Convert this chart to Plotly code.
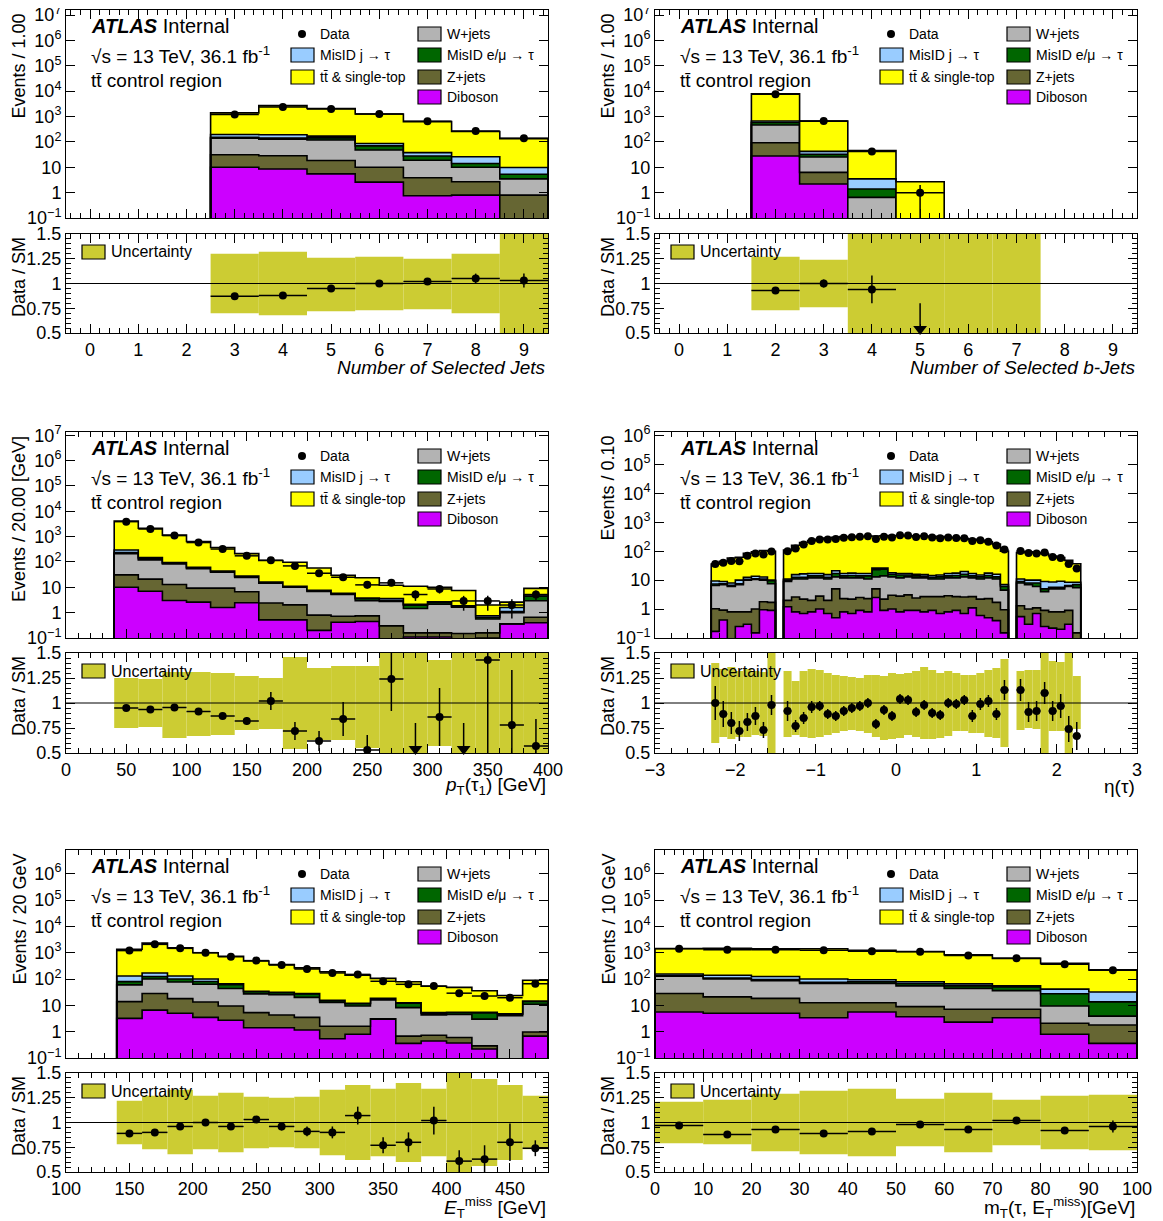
import numpy as np
import plotly.graph_objects as go

PAGE_W, PAGE_H = 1163, 1221
BODY_MARGIN = 8          # default <body> margin of the written html page
FIG_W, FIG_H = PAGE_W - BODY_MARGIN, PAGE_H - BODY_MARGIN
FONT = "Liberation Sans, Arial, Helvetica, sans-serif"

C_DIB, C_Z, C_W, C_EMU, C_J, C_TT = "#cc00ff", "#666633", "#b3b3b3", "#006600", "#99ccff", "#ffff00"
C_UNC = "#cccc33"

# ================= Panel 1 : number of selected jets =================
njet_centres = [3, 4, 5, 6, 7, 8, 9]
njet_dib = [10, 8.5, 5.5, 2.6, 0.75, 0.8, 0.0]
njet_z = [21, 20, 13, 7.4, 3.1, 1.9, 0.8]
njet_w = [110, 100, 100, 38, 15, 7.3, 2.7]
njet_emu = [12, 12, 25, 22, 9, 4, 1.8]
njet_j = [42, 50, 25, 17, 10, 12, 4.5]
njet_tt = [1200, 2500, 1900, 1170, 590, 230, 125]
njet_data = [1200, 2400, 2000, 1250, 650, 270, 140]
njet_ratio = [0.87, 0.88, 0.95, 1.0, 1.02, 1.05, 1.03]
njet_ratio_err = [0.01, 0.01, 0.01, 0.01, 0.02, 0.05, 0.07]
njet_unc_centres = [3, 4, 5, 6, 7, 8, 9]
njet_unc_lo = [0.70, 0.68, 0.72, 0.73, 0.74, 0.70, 0.50]
njet_unc_hi = [1.30, 1.32, 1.26, 1.27, 1.25, 1.30, 1.50]

# ================= Panel 2 : number of selected b-jets =================
nbjet_centres = [2, 3, 4, 5]
nbjet_dib = [28, 2.2, 0, 0]
nbjet_z = [65, 4.1, 0, 0]
nbjet_w = [370, 19, 0.65, 0]
nbjet_emu = [120, 7, 0.75, 0]
nbjet_j = [80, 10, 2.1, 0]
nbjet_tt = [7300, 620, 42, 2.7]
nbjet_data = [7500, 660, 42, 1]
nbjet_ratio = [0.93, 1.0, 0.94, 0.37]
nbjet_ratio_err = [0.01, 0.04, 0.14, 0.43]
nbjet_unc_centres = [2, 3, 4, 5, 6, 7]
nbjet_unc_lo = [0.73, 0.76, 0.5, 0.5, 0.5, 0.5]
nbjet_unc_hi = [1.27, 1.24, 1.5, 1.5, 1.5, 1.5]

# ================= Panel 3 : leading tau pT =================
pt_centres = [50, 70, 90, 110, 130, 150, 170, 190, 210, 230, 250, 270, 290, 310, 330, 350, 370, 390]
pt_dib = [10, 7, 3, 2.6, 1.6, 2.45, 0.52, 0.52, 0.2, 0.42, 0.45, 0, 0.11, 0.11, 0, 0.1, 0.36, 0.4]
pt_z = [21, 14, 10, 6.7, 7.7, 4.2, 1.9, 1.5, 0.6, 0.3, 0.3, 0.3, 0.05, 0.05, 0.15, 0.06, 0, 0.26]
pt_w = [180, 100, 70, 45, 30, 18, 12, 8, 6, 4.5, 2.2, 2.5, 1.3, 2.0, 1.5, 0.4, 0.64, 2.3]
pt_emu = [25, 15, 6, 4, 3, 2, 1.0, 0.5, 0.5, 0.3, 0.6, 0.3, 0.5, 0.3, 0.1, 0.1, 0.1, 1.5]
pt_j = [60, 15, 6, 4, 2, 1.5, 0.8, 0.5, 0.3, 0.3, 0.2, 0.5, 0.2, 0.2, 0.1, 0.1, 0.5, 0.5]
pt_tt = [3800, 1990, 1055, 578, 331, 185, 99, 86, 50, 24, 20, 8.4, 8.8, 7.3, 5.6, 1.25, 1.0, 4.1]
pt_data = [3900, 2000, 1100, 585, 325, 175, 117, 70, 36, 25, 12.5, 15, 5.2, 8.6, 2.9, 2.9, 2.0, 5.2]
pt_ratio = [0.95, 0.935, 0.955, 0.915, 0.87, 0.82, 1.02, 0.72, 0.62, 0.84, 0.53, 1.24, 0.45, 0.86, 0.39, 1.43, 0.78, 0.57]
pt_ratio_err = [0.02, 0.02, 0.02, 0.02, 0.03, 0.04, 0.09, 0.09, 0.1, 0.17, 0.15, 0.32, 0.35, 0.29, 0.41, 1.0, 0.55, 0.27]
pt_unc_centres = pt_centres
pt_unc_lo = [0.75, 0.76, 0.65, 0.67, 0.68, 0.73, 0.74, 0.54, 0.63, 0.63, 0.55, 0.5, 0.5, 0.57, 0.5, 0.5, 0.5, 0.5]
pt_unc_hi = [1.25, 1.24, 1.31, 1.31, 1.30, 1.27, 1.25, 1.46, 1.35, 1.37, 1.37, 1.5, 1.5, 1.43, 1.5, 1.5, 1.5, 1.5]

# ================= Panel 4 : tau eta (bins of 0.1, crack bins empty) =================
eta_edges = np.round(np.linspace(-2.3, 2.3, 47), 2)
eta_dib = ([0.17, 0.42, 0.0, 0.25, 0.3, 0.15, 0.95, 0.9] + [0] +
           [1.2, 0.8, 0.7, 0.8, 1.0, 0.7, 0.5, 0.8, 0.7, 0.9, 0.8, 2.5, 0.9, 1.0,
            0.8, 0.9, 0.9, 0.8, 0.9, 0.7, 0.8, 0.9, 0.7, 1.1, 0.6, 0.5, 0.4, 0.15] + [0] +
           [0.55, 0.3, 0.7, 0.25, 0.22, 0.2, 0.3, 0.0])
eta_z = ([0.85, 0.5, 0.8, 0.55, 0.5, 0.85, 0.85, 0.8] + [0] +
         [0.8, 1.8, 1.5, 1.2, 1.8, 1.3, 4.5, 1.5, 1.5, 1.6, 1.5, 2.5, 1.3, 2.0,
          2.0, 2.2, 1.5, 1.9, 1.8, 2.0, 2.1, 1.8, 1.9, 1.6, 1.6, 1.8, 1.3, 0.8] + [0] +
         [0.75, 0.7, 0.4, 0.65, 0.58, 0.6, 0.6, 0.15])
eta_w = ([5.5, 6.1, 5.2, 6.2, 9.2, 9.5, 8.2, 5.8] + [0] +
         [7.0, 8.4, 8.8, 10.0, 9.2, 9.0, 8.0, 9.7, 9.8, 9.5, 8.7, 8.0, 11.8, 10.0,
          9.2, 9.9, 9.6, 9.3, 8.3, 8.3, 9.1, 9.3, 10.4, 9.3, 8.8, 9.7, 9.3, 3.55] + [0] +
         [6.7, 6.0, 4.9, 3.1, 4.2, 4.2, 5.1, 5.35])
eta_emu = ([0.8, 0.5, 0.6, 0.5, 0.6, 0.7, 0.8, 2.0] + [0] +
           [1, 1.5, 1.5, 2, 2, 1.5, 4, 2, 2.5, 2, 3, 10, 10, 3,
            3, 2, 2, 1.5, 1.5, 2, 2, 2.5, 3, 2, 2, 2.5, 2, 1.5] + [0] +
           [1, 1, 2, 1, 0.6, 0.6, 0.5, 1.5])
eta_j = ([2.0, 1.5, 1.4, 2.5, 2.0, 2.5, 2.0, 0.5] + [0] +
         [1, 3, 4, 3, 3, 3, 4, 3, 3, 3, 3, 3, 2, 2,
          2, 2, 2, 2, 2, 2, 3, 3, 4, 3, 2, 3, 3, 1] + [0] +
         [2, 2, 2, 4, 3, 3.5, 2, 1.5])
eta_tt = ([26.7, 36, 50, 52, 72.4, 81.3, 92.2, 90] + [0] +
          [98, 144.5, 183.5, 218, 243, 269.5, 284, 303, 302.5, 308, 313, 309, 314, 327,
           328, 323, 324, 319.5, 315.5, 305, 283, 272.5, 255, 243, 225, 192.5, 159, 94] + [0] +
          [79, 85, 80, 73, 59.4, 50.9, 39.5, 28.5])
eta_data = ([36, 40, 46, 45, 69, 83, 77, 98] + [None] +
            [100, 123, 170, 226, 252, 254, 265, 294, 304, 315, 330, 265, 316, 300,
             359, 350, 309, 328, 297, 282, 300, 287, 283, 226, 238, 214, 156, 114] + [None] +
            [102, 86, 83, 90, 63, 58, 36, 25])
eta_ratio = ([1.0, 0.89, 0.80, 0.72, 0.81, 0.87, 0.73, 0.98] + [None] +
             [0.92, 0.77, 0.85, 0.96, 0.97, 0.89, 0.87, 0.92, 0.95, 0.97, 1.0, 0.79, 0.93, 0.87,
              1.04, 1.03, 0.91, 0.98, 0.90, 0.88, 1.0, 0.99, 1.03, 0.87, 0.99, 1.02, 0.89, 1.13] + [None] +
             [1.13, 0.91, 0.92, 1.10, 0.92, 0.97, 0.74, 0.67])
eta_ratio_err = ([0.17, 0.13, 0.11, 0.1, 0.09, 0.09, 0.08, 0.1] + [None] +
                 [0.1, 0.06, 0.06, 0.06, 0.05, 0.05, 0.05, 0.05, 0.05, 0.05, 0.05, 0.05, 0.05, 0.05,
                  0.05, 0.05, 0.05, 0.05, 0.05, 0.05, 0.05, 0.05, 0.05, 0.06, 0.06, 0.06, 0.06, 0.1] + [None] +
                 [0.11, 0.1, 0.1, 0.11, 0.1, 0.12, 0.13, 0.14])
eta_unc_lo = ([0.60, 0.66, 0.64, 0.66, 0.66, 0.68, 0.67, 0.50] + [None] +
              [0.66, 0.68, 0.66, 0.65, 0.66, 0.68, 0.70, 0.72, 0.73, 0.72, 0.70, 0.66, 0.63, 0.64,
               0.65, 0.68, 0.66, 0.64, 0.64, 0.65, 0.67, 0.72, 0.72, 0.70, 0.70, 0.66, 0.65, 0.56] + [None] +
              [0.73, 0.75, 0.74, 0.50, 0.72, 0.72, 0.50, 0.74])
eta_unc_hi = ([1.40, 1.34, 1.36, 1.32, 1.34, 1.32, 1.31, 1.50] + [None] +
              [1.32, 1.22, 1.32, 1.34, 1.33, 1.30, 1.28, 1.27, 1.26, 1.25, 1.28, 1.28, 1.27, 1.30,
               1.29, 1.30, 1.32, 1.36, 1.33, 1.30, 1.32, 1.30, 1.28, 1.28, 1.30, 1.33, 1.35, 1.44] + [None] +
              [1.32, 1.33, 1.33, 1.50, 1.42, 1.41, 1.50, 1.27])

# ================= Panel 5 : missing transverse energy =================
met_centres = [150, 170, 190, 210, 230, 250, 270, 290, 310, 330, 350, 370, 390, 410, 430, 450, 470]
met_dib = [3.2, 6.6, 5.0, 3.5, 2.7, 1.4, 1.4, 1.15, 0.54, 0.8, 3.0, 0.36, 0.44, 0.37, 0.22, 0.0, 0.68]
met_z = [10.6, 21.4, 13, 9.9, 6.7, 3.9, 2.9, 2.35, 1.06, 0.8, 0.1, 0.32, 0.29, 0.23, 0.07, 0.0, 0.29]
met_w = [46, 72, 59, 50, 34, 22, 21, 16.5, 11.4, 7.8, 13, 7.5, 3.6, 3.9, 2.7, 4.0, 10]
met_emu = [20, 25, 23, 17, 17, 6, 5, 7, 2, 2.1, 2, 3.8, 0.7, 0.7, 2.2, 0.6, 3]
met_j = [50, 45, 30, 20, 5, 1, 1, 1, 0.5, 0.5, 0.5, 0.5, 0.3, 0.3, 0.3, 0.2, 0.5]
met_tt = [1220, 2130, 1390, 900, 665, 451, 323, 236, 173, 128, 87, 66, 48, 42.5, 30.5, 19, 75]
met_data = [1200, 2070, 1460, 1000, 700, 500, 340, 240, 170, 150, 82, 63, 54, 29, 22.6, 19.5, 66]
met_ratio = [0.89, 0.90, 0.96, 1.0, 0.96, 1.03, 0.96, 0.91, 0.90, 1.07, 0.77, 0.80, 1.02, 0.61, 0.63, 0.80, 0.74]
met_ratio_err = [0.02, 0.02, 0.02, 0.02, 0.03, 0.03, 0.04, 0.05, 0.06, 0.09, 0.08, 0.10, 0.14, 0.11, 0.14, 0.19, 0.08]
met_unc_centres = met_centres
met_unc_lo = [0.78, 0.73, 0.68, 0.73, 0.70, 0.74, 0.75, 0.74, 0.67, 0.62, 0.66, 0.60, 0.66, 0.50, 0.56, 0.62, 0.73]
met_unc_hi = [1.22, 1.27, 1.33, 1.27, 1.30, 1.26, 1.25, 1.26, 1.33, 1.38, 1.34, 1.40, 1.34, 1.50, 1.44, 1.38, 1.27]

# ================= Panel 6 : transverse mass =================
mt_centres = [5, 15, 25, 35, 45, 55, 65, 75, 85, 95]
mt_dib = [5.6, 5, 5, 3.4, 5.6, 3.7, 2.3, 3.4, 0.8, 0.36]
mt_z = [22.4, 16, 13.4, 9.2, 7, 5.2, 4.8, 3.7, 1.3, 1.44]
mt_w = [100, 80, 68, 55, 55, 46, 37, 29, 7.3, 2.1]
mt_emu = [8, 8, 8, 7, 10, 12, 11, 14, 18, 9.6]
mt_j = [20, 30, 30, 25, 16, 12, 10, 5, 14, 18.5]
mt_tt = [1287, 1338, 1274, 1304, 1148, 1023, 774, 553, 350, 191]
mt_data = [1400, 1300, 1300, 1250, 1130, 1080, 780, 620, 360, 214]
mt_ratio = [0.97, 0.88, 0.93, 0.89, 0.91, 0.98, 0.93, 1.02, 0.92, 0.96]
mt_ratio_err = [0.01, 0.01, 0.015, 0.01, 0.01, 0.015, 0.02, 0.03, 0.03, 0.06]
mt_unc_centres = mt_centres
mt_unc_lo = [0.79, 0.78, 0.71, 0.68, 0.66, 0.76, 0.70, 0.77, 0.73, 0.72]
mt_unc_hi = [1.21, 1.23, 1.29, 1.32, 1.34, 1.24, 1.30, 1.23, 1.27, 1.28]

eta_centres = list(np.round((eta_edges[:-1] + eta_edges[1:]) / 2, 3))

PANELS = [
    dict(c=njet_centres, w=1.0, dib=njet_dib, z=njet_z, wj=njet_w, emu=njet_emu, j=njet_j, tt=njet_tt,
         data=njet_data, ratio=njet_ratio, rerr=njet_ratio_err,
         uc=njet_unc_centres, ulo=njet_unc_lo, uhi=njet_unc_hi,
         xr=[-0.5, 9.5], xt=list(range(0, 10)), xminor=0.2, ytop=7.2,
         ytitle="Events / 1.00", xtitle="<i>Number of Selected Jets</i>"),
    dict(c=nbjet_centres, w=1.0, dib=nbjet_dib, z=nbjet_z, wj=nbjet_w, emu=nbjet_emu, j=nbjet_j, tt=nbjet_tt,
         data=nbjet_data, ratio=nbjet_ratio, rerr=nbjet_ratio_err,
         uc=nbjet_unc_centres, ulo=nbjet_unc_lo, uhi=nbjet_unc_hi,
         xr=[-0.5, 9.5], xt=list(range(0, 10)), xminor=0.2, ytop=7.2,
         ytitle="Events / 1.00", xtitle="<i>Number of Selected b-Jets</i>"),
    dict(c=pt_centres, w=20.0, dib=pt_dib, z=pt_z, wj=pt_w, emu=pt_emu, j=pt_j, tt=pt_tt,
         data=pt_data, ratio=pt_ratio, rerr=pt_ratio_err,
         uc=pt_unc_centres, ulo=pt_unc_lo, uhi=pt_unc_hi,
         xr=[0, 400], xt=list(range(0, 401, 50)), xminor=10, ytop=7.13,
         ytitle="Events / 20.00 [GeV]", xtitle="<i>p</i><sub>T</sub>(τ<sub>1</sub>) [GeV]"),
    dict(c=eta_centres, w=0.1, dib=eta_dib, z=eta_z, wj=eta_w, emu=eta_emu, j=eta_j, tt=eta_tt,
         data=eta_data, ratio=eta_ratio, rerr=eta_ratio_err,
         uc=eta_centres, ulo=eta_unc_lo, uhi=eta_unc_hi,
         xr=[-3, 3], xt=list(range(-3, 4)), xminor=0.2, ytop=6.12,
         ytitle="Events / 0.10", xtitle="η(τ)"),
    dict(c=met_centres, w=20.0, dib=met_dib, z=met_z, wj=met_w, emu=met_emu, j=met_j, tt=met_tt,
         data=met_data, ratio=met_ratio, rerr=met_ratio_err,
         uc=met_unc_centres, ulo=met_unc_lo, uhi=met_unc_hi,
         xr=[100, 480], xt=list(range(100, 451, 50)), xminor=10, ytop=6.9,
         ytitle="Events / 20 GeV", xtitle="<i>E</i><sub>T</sub><sup>miss</sup> [GeV]"),
    dict(c=mt_centres, w=10.0, dib=mt_dib, z=mt_z, wj=mt_w, emu=mt_emu, j=mt_j, tt=mt_tt,
         data=mt_data, ratio=mt_ratio, rerr=mt_ratio_err,
         uc=mt_unc_centres, ulo=mt_unc_lo, uhi=mt_unc_hi,
         xr=[0, 100], xt=list(range(0, 101, 10)), xminor=2, ytop=6.9,
         ytitle="Events / 10 GeV", xtitle="m<sub>T</sub>(τ, E<sub>T</sub><sup>miss</sup>)[GeV]"),
]

# ---------------- geometry (page pixels) ----------------
COLS = [(66, 548), (655, 1137)]
ROWS_MAIN = [(10, 218), (432, 638), (850, 1058)]
ROWS_RATIO = [(234, 333), (653, 753), (1073, 1172)]
XTITLE_Y = [368, 786, 1207]


def px(x):
    return (x - BODY_MARGIN) / FIG_W


def py(y):
    return 1 - (y - BODY_MARGIN) / FIG_H


def axname(n, kind):
    return kind + ("" if n == 1 else str(n))


AX = dict(showline=True, linecolor="black", linewidth=1, mirror="ticks", ticks="inside",
          tickcolor="black", ticklen=9, tickwidth=1, showgrid=False, zeroline=False, automargin=False,
          ticklabeloverflow="allow",
          tickfont=dict(family=FONT, size=18, color="black"))

STACK = [("dib", C_DIB), ("z", C_Z), ("wj", C_W), ("emu", C_EMU), ("j", C_J), ("tt", C_TT)]

fig = go.Figure()
annotations = []
shapes = []
layout_axes = {}
BASE = 1e-3


def ann(text, x, y, size, xanchor="left", yanchor="middle", angle=0):
    annotations.append(dict(text=text, x=px(x), y=py(y), xref="paper", yref="paper", showarrow=False,
                            xanchor=xanchor, yanchor=yanchor, textangle=angle,
                            font=dict(family=FONT, size=size, color="black")))


def box(x0, y0, x1, y1, color):
    shapes.append(dict(type="rect", xref="paper", yref="paper", x0=px(x0), x1=px(x1), y0=py(y1), y1=py(y0),
                       fillcolor=color, line=dict(color="black", width=1.2)))


for k, P in enumerate(PANELS):
    col, row = k % 2, k // 2
    m, r = 2 * k + 1, 2 * k + 2
    xm, ym, xr_, yr_ = axname(m, "x"), axname(m, "y"), axname(r, "x"), axname(r, "y")
    x0p, x1p = COLS[col]
    mt, mb = ROWS_MAIN[row]
    rt, rb = ROWS_RATIO[row]

    centres = np.asarray(P["c"], float)
    w = P["w"]
    edges = np.append(centres - w / 2, centres[-1] + w / 2)
    xs = np.concatenate([[edges[0]], edges, [edges[-1]]])

    def ys_of(v):
        v = np.maximum(v, BASE)
        return np.concatenate([[BASE], v, [v[-1]], [BASE]])

    cum = np.zeros(len(centres))
    fig.add_trace(go.Scatter(x=xs, y=ys_of(cum), mode="lines", line=dict(width=0, shape="hv"),
                             xaxis=xm, yaxis=ym, hoverinfo="skip", showlegend=False))
    for key, colr in STACK:
        cum = cum + np.asarray(P[key], float)
        fig.add_trace(go.Scatter(x=xs, y=ys_of(cum), mode="lines",
                                 line=dict(color="black", width=1.6, shape="hv"),
                                 fill="tonexty", fillcolor=colr, xaxis=xm, yaxis=ym,
                                 hoverinfo="skip", showlegend=False))

    # data points in main panel
    dx, dy, de = [], [], []
    for c, d in zip(P["c"], P["data"]):
        if d is None:
            continue
        dx.append(c); dy.append(d); de.append(float(np.sqrt(d)))
    fig.add_trace(go.Scatter(x=dx, y=dy, mode="markers", marker=dict(color="black", size=8),
                             error_y=dict(type="data", array=de, color="black", thickness=1.5, width=0),
                             error_x=dict(type="constant", value=w / 2, color="black", thickness=1.5, width=0),
                             xaxis=xm, yaxis=ym, showlegend=False, hoverinfo="skip"))

    # uncertainty band in ratio panel
    bx, bb, bh = [], [], []
    for c, lo, hi in zip(P["uc"], P["ulo"], P["uhi"]):
        if lo is None:
            continue
        bx.append(c); bb.append(lo); bh.append(hi - lo)
    fig.add_trace(go.Bar(x=bx, y=bh, base=bb, width=w, marker=dict(color=C_UNC, line=dict(width=0)),
                         xaxis=xr_, yaxis=yr_, showlegend=False, hoverinfo="skip"))
    shapes.append(dict(type="line", xref=xr_, yref=yr_, x0=P["xr"][0], x1=P["xr"][1], y0=1, y1=1,
                       line=dict(color="black", width=1), layer="above"))

    # ratio points
    rx, ry, re = [], [], []
    for c, v, e in zip(P["c"], P["ratio"], P["rerr"]):
        if v is None:
            continue
        if v < 0.5:
            fig.add_trace(go.Scatter(x=[c, c], y=[v + e, 0.52], mode="lines", line=dict(color="black", width=1.5),
                                     xaxis=xr_, yaxis=yr_, showlegend=False, hoverinfo="skip"))
            fig.add_trace(go.Scatter(x=[c], y=[0.54], mode="markers",
                                     marker=dict(symbol="triangle-down", color="black", size=12),
                                     xaxis=xr_, yaxis=yr_, showlegend=False, hoverinfo="skip", cliponaxis=False))
            continue
        rx.append(c); ry.append(v); re.append(e)
    fig.add_trace(go.Scatter(x=rx, y=ry, mode="markers", marker=dict(color="black", size=8),
                             error_y=dict(type="data", array=re, color="black", thickness=1.5, width=0),
                             error_x=dict(type="constant", value=w / 2, color="black", thickness=1.5, width=0),
                             xaxis=xr_, yaxis=yr_, showlegend=False, hoverinfo="skip"))

    # axes
    ytop = P["ytop"]
    decades = list(range(-1, int(np.floor(ytop)) + 1))
    ytext = []
    for d in decades:
        if d == 0:
            ytext.append("1")
        elif d == 1:
            ytext.append("10")
        elif d < 0:
            ytext.append("10<sup>−%d</sup>" % (-d))
        else:
            ytext.append("10<sup>%d</sup>" % d)
    xdom = [px(x0p), px(x1p)]
    layout_axes[axname(m, "xaxis")] = dict(domain=xdom, anchor=ym, range=P["xr"], tickvals=P["xt"],
                                         showticklabels=False,
                                         minor=dict(ticks="inside", ticklen=5, dtick=P["xminor"], tickcolor="black"),
                                         **AX)
    layout_axes[axname(m, "yaxis")] = dict(domain=[py(mb), py(mt)], anchor=xm, type="log", range=[-1, ytop],
                                         tickvals=[10.0 ** d for d in decades], ticktext=ytext, **AX)
    layout_axes[axname(r, "xaxis")] = dict(domain=xdom, anchor=yr_, range=P["xr"], tickvals=P["xt"],
                                         minor=dict(ticks="inside", ticklen=5, dtick=P["xminor"], tickcolor="black"),
                                         **AX)
    layout_axes[axname(r, "yaxis")] = dict(domain=[py(rb), py(rt)], anchor=xr_, range=[0.5, 1.5],
                                         tickvals=[0.5, 0.75, 1, 1.25, 1.5],
                                         ticktext=["0.5", "0.75", "1", "1.25", "1.5"],
                                         minor=dict(ticks="inside", ticklen=5, dtick=0.05, tickcolor="black"),
                                         **AX)

    # texts
    ann("<b><i>ATLAS</i></b> Internal", x0p + 23, mt + 16, 20)
    ann("√s = 13 TeV, 36.1 fb<sup>-1</sup>", x0p + 23, mt + 45, 19)
    ann("tt\u0304 control region", x0p + 23, mt + 70, 19)
    ann(P["ytitle"], 19 if col == 0 else 608, mt + 2, 18, xanchor="center", yanchor="top", angle=-90)
    ann("Data / SM", 19 if col == 0 else 608, rt + 1, 18, xanchor="center", yanchor="top", angle=-90)
    ann(P["xtitle"], x1p, XTITLE_Y[row], 19, xanchor="right")

    # legend
    rows_y = [mt + 24, mt + 45, mt + 67, mt + 87]
    shapes.append(dict(type="circle", xref="paper", yref="paper", x0=px(x0p + 232), x1=px(x0p + 240),
                       y0=py(rows_y[0] + 4), y1=py(rows_y[0] - 4), fillcolor="black", line=dict(color="black", width=0)))
    ann("Data", x0p + 252, rows_y[0], 14)
    for i, (lab, colr) in enumerate([("MisID j → τ", C_J), ("tt\u0304 & single-top", C_TT)]):
        box(x0p + 225, rows_y[i + 1] - 7, x0p + 248, rows_y[i + 1] + 7, colr)
        ann(lab, x0p + 252, rows_y[i + 1], 14)
    for i, (lab, colr) in enumerate([("W+jets", C_W), ("MisID e/μ → τ", C_EMU), ("Z+jets", C_Z), ("Diboson", C_DIB)]):
        box(x0p + 352, rows_y[i] - 7, x0p + 375, rows_y[i] + 7, colr)
        ann(lab, x0p + 379, rows_y[i], 14)
    box(x0p + 16, rt + 11, x0p + 39, rt + 25, C_UNC)
    ann("Uncertainty", x0p + 43, rt + 18, 16)

fig.update_layout(width=FIG_W, height=FIG_H, margin=dict(l=0, r=0, t=0, b=0, autoexpand=False),
                  paper_bgcolor="white", plot_bgcolor="white", showlegend=False,
                  barmode="overlay", annotations=annotations, shapes=shapes,
                  font=dict(family=FONT, color="black"), **layout_axes)

fig.write_html("out.html")
